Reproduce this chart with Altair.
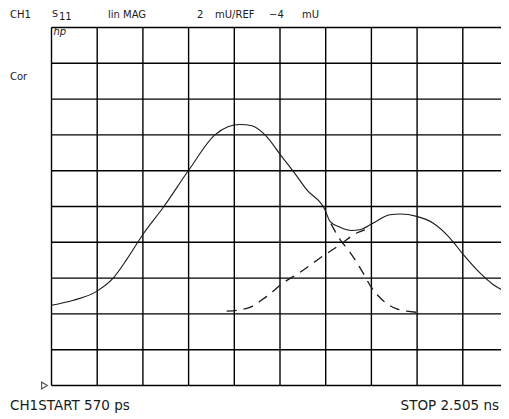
import altair as alt
import pandas as pd

# X axis: time in ns (START 570 ps, STOP 2.505 ns); Y axis: lin MAG in mU (2 mU/div, ref -4 mU)
x_start = 0.570
x_stop = 2.505
y_ref = -4.0
y_per_div = 2.0

solid_x = [0.570, 0.662, 0.761, 0.832, 0.888, 0.959, 1.046, 1.152, 1.262, 1.317, 1.368, 1.419, 1.474,
           1.545, 1.594, 1.651, 1.728, 1.749, 1.792, 1.841, 1.876, 1.933, 2.003, 2.046, 2.116, 2.185,
           2.257, 2.314, 2.384, 2.441, 2.490]
solid_y = [0.48, 0.76, 1.26, 2.01, 3.03, 4.48, 6.00, 8.05, 10.00, 10.45, 10.58, 10.51, 10.00,
           8.79, 7.96, 6.93, 5.82, 5.17, 4.84, 4.66, 4.70, 5.08, 5.54, 5.58, 5.45, 5.08,
           4.24, 3.31, 2.29, 1.63, 1.26]

rise_x = [1.312, 1.403, 1.481, 1.551, 1.629, 1.707, 1.792, 1.862, 1.897]
rise_y = [0.15, 0.33, 0.98, 1.73, 2.38, 3.12, 3.87, 4.52, 4.70]

fall_x = [1.753, 1.792, 1.834, 1.883, 1.926, 1.969, 2.032, 2.074, 2.116]
fall_y = [5.04, 4.15, 3.44, 2.43, 1.45, 0.80, 0.28, 0.15, 0.09]

x_grid = [round(x_start + k * (x_stop - x_start) / 10, 4) for k in range(11)]
y_grid = [y_ref + k * y_per_div for k in range(11)]

solid = pd.DataFrame({"t": solid_x, "v": solid_y})
rise = pd.DataFrame({"t": rise_x, "v": rise_y})
fall = pd.DataFrame({"t": fall_x, "v": fall_y})

W, H = 457, 358
ink = "#1a1a1a"
font = "DejaVu Sans"

xs = alt.Scale(domain=[x_start, x_stop], nice=False, zero=False)
ys = alt.Scale(domain=[y_ref, y_ref + 10 * y_per_div], nice=False, zero=False)

vgrid = alt.Chart(pd.DataFrame({"t": x_grid})).mark_rule(color="#000", strokeWidth=1.4).encode(
    x=alt.X("t:Q", scale=xs, axis=None))
hgrid = alt.Chart(pd.DataFrame({"v": y_grid})).mark_rule(color="#000", strokeWidth=1.4).encode(
    y=alt.Y("v:Q", scale=ys, axis=None))

base_line = alt.Chart(solid).mark_line(color=ink, strokeWidth=1.1, interpolate="monotone").encode(
    x=alt.X("t:Q", scale=xs, axis=None),
    y=alt.Y("v:Q", scale=ys, axis=None),
)

rise_line = alt.Chart(rise).mark_line(color=ink, strokeWidth=1.3, strokeDash=[10, 7],
                                      interpolate="monotone").encode(
    x=alt.X("t:Q", scale=xs, axis=None), y=alt.Y("v:Q", scale=ys, axis=None))
fall_line = alt.Chart(fall).mark_line(color=ink, strokeWidth=1.3, strokeDash=[10, 7],
                                      interpolate="monotone").encode(
    x=alt.X("t:Q", scale=xs, axis=None), y=alt.Y("v:Q", scale=ys, axis=None))

marker = alt.Chart(pd.DataFrame({"v": [y_ref]})).mark_point(
    shape="triangle-right", filled=False, color=ink, size=45, strokeWidth=1.2
).encode(x=alt.value(-7), y=alt.Y("v:Q", scale=ys, axis=None))

labels = [
    ("CH1", -41.5, -12.5, 10, "normal"),
    ("S", 0.5, -14.0, 9.5, "normal"),
    ("11", 7.5, -10.5, 10, "normal"),
    ("lin", 56.5, -12.5, 10, "normal"),
    ("MAG", 71.5, -12.5, 10, "normal"),
    ("2", 145.5, -13.0, 10, "normal"),
    ("mU/REF", 163.5, -13.0, 10, "normal"),
    ("\u22124", 217.5, -13.0, 10, "normal"),
    ("mU", 250.5, -13.0, 10, "normal"),
    ("Cor", -41.5, 49.5, 10, "normal"),
]
text_layers = []
for txt, tx, ty, fs, st in labels:
    text_layers.append(
        alt.Chart(pd.DataFrame({"s": [txt]})).mark_text(
            align="left", baseline="middle", font=font, fontSize=fs, color=ink, fontStyle=st
        ).encode(text="s:N", x=alt.value(tx), y=alt.value(ty))
    )

hp = alt.Chart(pd.DataFrame({"s": ["hp"]})).mark_text(
    align="left", baseline="middle", font=font, fontSize=10, fontStyle="italic", color=ink
).encode(text="s:N", x=alt.value(2), y=alt.value(4.5))

start_txt = alt.Chart(pd.DataFrame({"s": ["CH1START 570 ps"]})).mark_text(
    align="left", baseline="middle", font=font, fontSize=13.5, color=ink
).encode(text="s:N", x=alt.value(-41.5), y=alt.value(378.5))

stop_txt = alt.Chart(pd.DataFrame({"s": ["STOP 2.505 ns"]})).mark_text(
    align="right", baseline="middle", font=font, fontSize=13.5, color=ink
).encode(text="s:N", x=alt.value(447.5), y=alt.value(378.5))

chart = alt.layer(vgrid, hgrid, base_line, rise_line, fall_line, marker, hp, start_txt, stop_txt,
                  *text_layers).properties(
    width=W, height=H,
    autosize=alt.AutoSizeParams(type="none"),
    padding={"left": 43.5, "top": 19.5, "right": -7.5, "bottom": 30},
    background="white",
).configure_view(stroke=None)

chart.save("out.html", embed_options={"renderer": "svg", "actions": False})
